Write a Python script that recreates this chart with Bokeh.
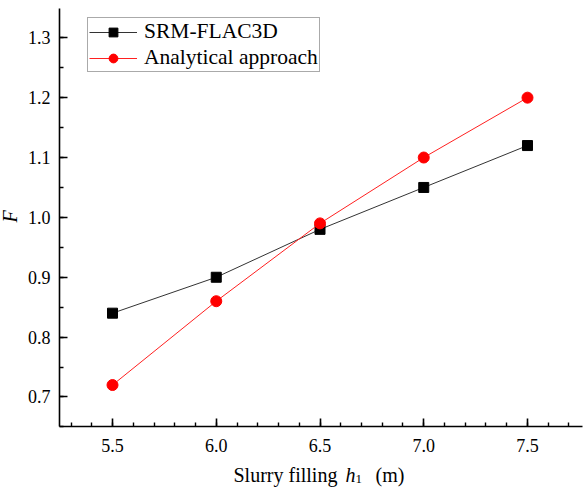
import math
from bokeh.plotting import figure
from bokeh.models import (Label, LinearAxis, SingleIntervalTicker, PrintfTickFormatter,
                          Range1d)
from bokeh.embed import file_html
from bokeh.resources import INLINE

# data
h1 = [5.5, 6.0, 6.5, 7.0, 7.5]
srm_flac3d = [0.84, 0.90, 0.98, 1.05, 1.12]
analytical = [0.72, 0.86, 0.99, 1.10, 1.20]
series_names = ["SRM-FLAC3D", "Analytical approach"]
x_label_parts = ["Slurry filling", "h", "1", "(m)"]
y_label = "F"
x_axis_span = (5.245, 7.765)
y_axis_span = (0.65, 1.3485)

FONT = "Liberation Serif"

# frame covers the whole canvas; axes are drawn at fixed positions inside it
p = figure(width=583, height=493, output_backend="svg", toolbar_location=None,
           x_range=Range1d(4.9602, 7.7699), y_range=Range1d(0.5388, 1.3623),
           x_axis_location=None, y_axis_location=None, min_border=0)
p.outline_line_color = None
p.xgrid.visible = False
p.ygrid.visible = False
p.background_fill_color = "white"
p.border_fill_color = "white"

xaxis = LinearAxis(fixed_location=y_axis_span[0], bounds=x_axis_span,
                   ticker=SingleIntervalTicker(interval=0.5, num_minor_ticks=5),
                   formatter=PrintfTickFormatter(format="%.1f"))
yaxis = LinearAxis(fixed_location=x_axis_span[0], bounds=y_axis_span,
                   ticker=SingleIntervalTicker(interval=0.1, num_minor_ticks=2),
                   formatter=PrintfTickFormatter(format="%.1f"))
for ax in (xaxis, yaxis):
    ax.axis_line_width = 1.6
    ax.axis_line_color = "black"
    ax.major_tick_in = 8
    ax.major_tick_out = 0
    ax.minor_tick_in = 4
    ax.minor_tick_out = 0
    ax.major_tick_line_width = 1.6
    ax.minor_tick_line_width = 1.4
    ax.major_tick_line_color = "black"
    ax.minor_tick_line_color = "black"
    ax.major_label_text_font = FONT
    ax.major_label_text_font_size = "18px"
    ax.major_label_text_color = "black"
xaxis.major_label_standoff = 12
yaxis.major_label_standoff = 9
p.add_layout(xaxis, "below")
p.add_layout(yaxis, "left")

# series
p.line(h1, srm_flac3d, line_color="#333333", line_width=1, legend_label=series_names[0])
p.scatter(h1, srm_flac3d, marker="square", size=10, fill_color="black", line_color="black",
          legend_label=series_names[0])
p.line(h1, analytical, line_color="#ff2020", line_width=1, legend_label=series_names[1])
p.scatter(h1, analytical, marker="circle", size=11, fill_color="#ff0000", line_color="#ff0000",
          legend_label=series_names[1])

leg = p.legend[0]
leg.location = (87, 421)
leg.label_text_font = FONT
leg.label_text_font_size = "21.5px"
leg.label_text_color = "black"
leg.glyph_width = 48
leg.glyph_height = 22
leg.label_height = 22
leg.label_standoff = 7
leg.padding = 1
leg.spacing = 1
leg.margin = 0
leg.border_line_color = "#555555"
leg.border_line_width = 1
leg.background_fill_alpha = 1

# axis titles (mixed styles: italic h with subscript 1)
common = dict(x_units="screen", y_units="screen", text_font=FONT, text_color="black",
              text_baseline="alphabetic", text_align="left")
p.add_layout(Label(x=233, y=19, text=x_label_parts[0], text_font_size="20px", **common))
p.add_layout(Label(x=345, y=19, text=x_label_parts[1], text_font_size="20px",
                   text_font_style="italic", **common))
p.add_layout(Label(x=355, y=15, text=x_label_parts[2], text_font_size="13px", **common))
p.add_layout(Label(x=375, y=19, text=x_label_parts[3], text_font_size="20px", **common))

p.add_layout(Label(x=9, y=277, x_units="screen", y_units="screen", text=y_label,
                   text_font=FONT, text_font_size="20px", text_font_style="italic",
                   text_color="black", angle=math.pi / 2, text_align="center",
                   text_baseline="alphabetic"))

open("out.html", "w").write(file_html(p, INLINE))
